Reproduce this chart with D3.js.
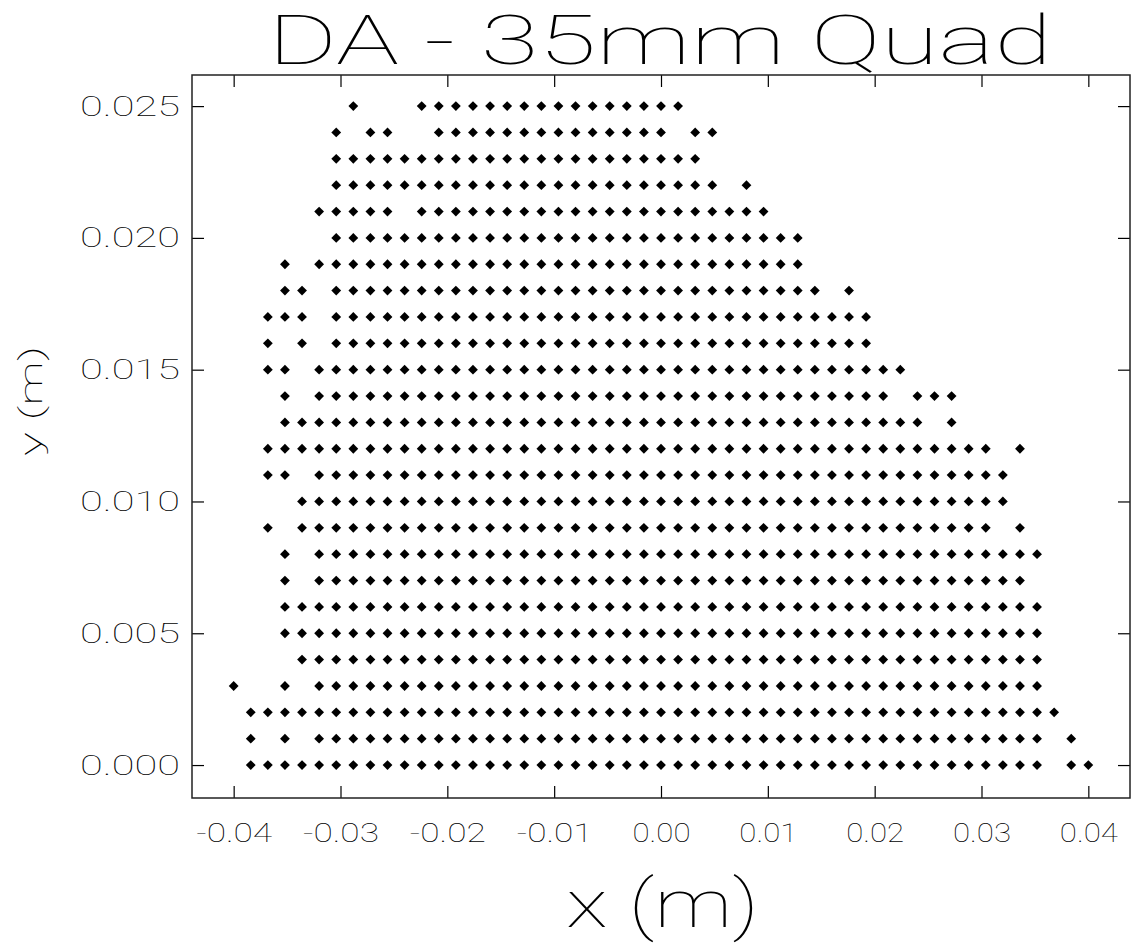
<!DOCTYPE html>
<html>
<head>
<meta charset="utf-8">
<script src="https://cdn.jsdelivr.net/npm/d3@7"></script>
<style>
  body { margin: 0; background: #fff; }
  text { font-family: Roboto, "DejaVu Sans", sans-serif; font-weight: 100; fill: #000; }
</style>
</head>
<body>
<svg id="chart" width="1134" height="952"></svg>
<script>
// tick labels
var xTicks = [-0.04, -0.03, -0.02, -0.01, 0.00, 0.01, 0.02, 0.03, 0.04];
var yTicks = [0.000, 0.005, 0.010, 0.015, 0.020, 0.025];

// grid of the tracked particles (m)
var xGrid = [-0.0400, -0.0384, -0.0368, -0.0352, -0.0336, -0.0320, -0.0304, -0.0288, -0.0272, -0.0256,
             -0.0240, -0.0224, -0.0208, -0.0192, -0.0176, -0.0160, -0.0144, -0.0128, -0.0112, -0.0096,
             -0.0080, -0.0064, -0.0048, -0.0032, -0.0016, 0.0000, 0.0016, 0.0032, 0.0048, 0.0064,
             0.0080, 0.0096, 0.0112, 0.0128, 0.0144, 0.0160, 0.0176, 0.0192, 0.0208, 0.0224,
             0.0240, 0.0256, 0.0272, 0.0288, 0.0304, 0.0320, 0.0336, 0.0352, 0.0368, 0.0384, 0.0400];
var yRows = [0.000, 0.001, 0.002, 0.003, 0.004, 0.005, 0.006, 0.007, 0.008, 0.009,
             0.010, 0.011, 0.012, 0.013, 0.014, 0.015, 0.016, 0.017, 0.018, 0.019,
             0.020, 0.021, 0.022, 0.023, 0.024, 0.025];

// surviving columns per row (indices into xGrid, "a-b" = run)
var rowCols = [
  "1-47 49 50",
  "1 3 5-47 49",
  "1-48",
  "0 3 5-47",
  "4-47",
  "3-47",
  "3-47",
  "3 5-46",
  "3 5-47",
  "2 4-44 46",
  "4-45",
  "2 3 5-45",
  "2-44 46",
  "3-40 42",
  "3 5-38 40-42",
  "2 3 5-39",
  "2 4 6-37",
  "2-4 6-37",
  "3 4 6-34 36",
  "3 5-33",
  "6-33",
  "5-9 11-31",
  "6-28 30",
  "6-27",
  "6 8 9 12-25 27 28",
  "7 11-26"
];

var titleText = "DA - 35mm Quad";

var points = [];
rowCols.forEach(function(spec, r){
  spec.split(" ").forEach(function(tok){
    var ab = tok.split("-").map(Number);
    var a = ab[0], b = ab.length > 1 ? ab[1] : ab[0];
    for (var k = a; k <= b; k++) points.push({x: xGrid[k], y: yRows[r]});
  });
});

var frame = {left: 192, right: 1130, top: 75, bottom: 798};
var svg = d3.select("#chart");

var x = d3.scaleLinear().domain([-0.0439, 0.0439]).range([frame.left, frame.right]);
var y = d3.scaleLinear().domain([-0.00125, 0.02618]).range([frame.bottom, frame.top]);

// points
var diamond = d3.symbol().type(d3.symbolSquare).size(48);
svg.append("g")
  .selectAll("path")
  .data(points)
  .enter()
  .append("path")
  .attr("d", diamond)
  .attr("transform", function(d){ return "translate(" + x(d.x) + "," + y(d.y) + ") rotate(45)"; })
  .attr("fill", "#000");

// axes, ticks pointing inwards on all sides
var gx = svg.append("g")
  .attr("transform", "translate(0," + frame.bottom + ")")
  .call(d3.axisBottom(x).tickValues(xTicks).tickSize(-12).tickSizeOuter(0).tickPadding(26)
    .tickFormat(d3.format(".2f")));
gx.selectAll("text")
  .style("font-size", "25px")
  .attr("textLength", function(d){ return d < 0 ? 76 : 58; })
  .attr("lengthAdjust", "spacingAndGlyphs")
  .text(function(d){ return d3.format(".2f")(d).replace("\u2212", "-"); });

var gy = svg.append("g")
  .attr("transform", "translate(" + frame.left + ",0)")
  .call(d3.axisLeft(y).tickValues(yTicks).tickSize(-12).tickSizeOuter(0).tickPadding(12)
    .tickFormat(d3.format(".3f")));
gy.selectAll("text")
  .style("font-size", "28px")
  .attr("textLength", 100)
  .attr("lengthAdjust", "spacingAndGlyphs");

svg.append("g")
  .attr("transform", "translate(0," + frame.top + ")")
  .call(d3.axisTop(x).tickValues(xTicks).tickSize(-12).tickSizeOuter(0).tickFormat(""));
svg.append("g")
  .attr("transform", "translate(" + frame.right + ",0)")
  .call(d3.axisRight(y).tickValues(yTicks).tickSize(-12).tickSizeOuter(0).tickFormat(""));

svg.selectAll(".domain").remove();
svg.selectAll(".tick line").attr("stroke", "#000").attr("stroke-width", 1.2);
svg.selectAll(".tick text").attr("fill", "#000");

svg.append("rect")
  .attr("x", frame.left).attr("y", frame.top)
  .attr("width", frame.right - frame.left).attr("height", frame.bottom - frame.top)
  .attr("fill", "none").attr("stroke", "#222").attr("stroke-width", 1.5);

// title and axis labels
svg.append("text")
  .attr("x", 268).attr("y", 64)
  .attr("textLength", 784).attr("lengthAdjust", "spacingAndGlyphs")
  .style("font-size", "68px")
  .text(titleText);

svg.append("text")
  .attr("x", 566).attr("y", 927)
  .attr("textLength", 193).attr("lengthAdjust", "spacingAndGlyphs")
  .style("font-size", "66px")
  .text("x (m)");

svg.append("text")
  .attr("transform", "translate(42,456) rotate(-90)")
  .attr("textLength", 110).attr("lengthAdjust", "spacingAndGlyphs")
  .style("font-size", "32px")
  .text("y (m)");
</script>
</body>
</html>
